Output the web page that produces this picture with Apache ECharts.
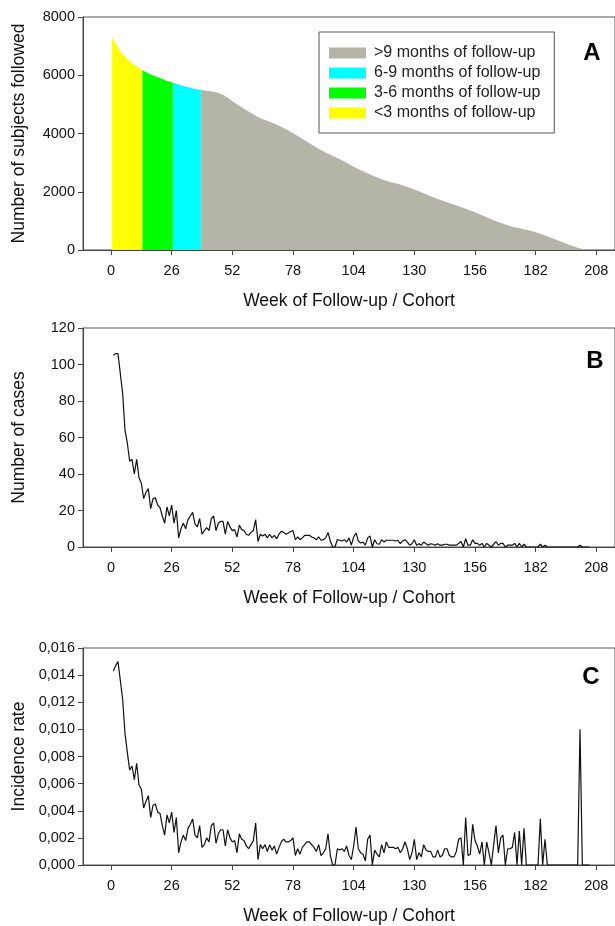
<!DOCTYPE html>
<html><head><meta charset="utf-8">
<script src="https://cdn.jsdelivr.net/npm/echarts@6/dist/echarts.min.js"></script>
<style>html,body{margin:0;padding:0;background:#fff}#c{width:615px;height:926px}</style>
</head><body><div id="c"></div>
<script>
// ---------- DATA ----------
const xTicks = [0, 26, 52, 78, 104, 130, 156, 182, 208];

// Panel A: number of subjects followed (read at selected weeks)
const weeksA = [0.5, 1.5, 3, 5, 8, 10.5, 13.5, 17, 20, 23, 26.5, 30, 33, 36, 38.5, 42, 45, 48, 50, 53, 56, 60, 64, 68, 72, 76, 80, 84, 88, 92, 96, 100, 104, 108, 112, 116, 120, 124, 128, 132, 136, 140, 144, 148, 152, 156, 160, 164, 168, 172, 176, 180, 184, 188, 192, 196, 200, 203, 205];
const subjectsA = [7330, 7150, 6950, 6700, 6480, 6330, 6170, 6030, 5940, 5840, 5740, 5660, 5590, 5530, 5490, 5460, 5420, 5330, 5230, 5060, 4900, 4700, 4520, 4400, 4270, 4100, 3920, 3720, 3520, 3350, 3190, 3040, 2860, 2700, 2560, 2430, 2330, 2250, 2140, 2020, 1880, 1750, 1640, 1530, 1420, 1300, 1160, 1020, 900, 800, 730, 660, 560, 440, 320, 190, 80, 20, 0];
const bandEdges = [0.5, 13.5, 26.5, 38.5, 205];
const bandNames = ['<3 months of follow-up', '3-6 months of follow-up', '6-9 months of follow-up', '>9 months of follow-up'];
const legendOrder = ['>9 months of follow-up', '6-9 months of follow-up', '3-6 months of follow-up', '<3 months of follow-up'];

// Panel B: number of cases per week (weeks 1..205)
const casesB = [
 105, 106, 106, 95, 84, 64, 57, 47, 48, 40,
 48, 38, 35, 26.5, 30, 32, 21, 26.5, 27, 23,
 21.6, 17, 13, 22, 17, 23, 13, 20, 5, 10,
 13, 10, 15, 17, 19, 12.5, 11, 15.6, 7, 9,
 10.6, 9, 15.6, 17, 9, 13, 14, 14, 7, 14,
 11, 9, 9.5, 5.5, 12, 9.5, 9, 7, 6.4, 8,
 9, 15, 3, 7, 6, 7, 5, 7, 5, 6.4,
 4.6, 7, 8.6, 8, 7, 7.7, 8.5, 9, 4, 5.5,
 4, 5, 6.4, 6.4, 6.4, 5.5, 5, 4, 5.5, 3.7,
 4, 5, 8, 3.3, 0, 0, 4, 3.7, 3.3, 4,
 2.7, 5, 1, 5.5, 7.7, 3.3, 2.2, 2.7, 1, 5,
 6, 0, 4, 1.8, 1.5, 4, 2.7, 3.7, 3.7, 3.7,
 3.7, 3.3, 3.7, 1.8, 3.3, 4, 2.7, 1, 1.8, 4,
 1, 1.8, 1, 2.7, 1.8, 1, 1.8, 1.5, 1, 1.8,
 1, 1, 1.5, 1.5, 1, 1, 1, 1, 2, 3,
 0, 4.5, 1, 1, 4, 2, 2, 1, 2, 0,
 2, 1, 0, 1.5, 3, 1, 2, 2, 0, 1,
 1, 1, 2, 0, 2, 0, 1.5, 0, 0, 0,
 0, 0, 0, 1.5, 0, 1, 0, 0, 0, 0,
 0, 0, 0, 0, 0, 0, 0, 0, 0, 0,
 1, 0, 0, 0, 0
];

// Panel C: incidence rate per week (weeks 1..205)
const incidenceC = [
 0.0143, 0.0147, 0.0150, 0.0136, 0.0122, 0.0097, 0.0083, 0.0070, 0.0073, 0.0063,
 0.0075, 0.0059, 0.0056, 0.0042, 0.0047, 0.0051, 0.0035, 0.0044, 0.0045, 0.0039,
 0.0038, 0.0029, 0.0022, 0.0037, 0.0031, 0.0039, 0.0024, 0.0035, 0.0009, 0.0017,
 0.0022, 0.0018, 0.0027, 0.0030, 0.0034, 0.0022, 0.0020, 0.0029, 0.0013, 0.0015,
 0.0020, 0.0017, 0.0029, 0.0031, 0.0016, 0.0023, 0.0026, 0.0026, 0.0014, 0.0026,
 0.0020, 0.0017, 0.0018, 0.0009, 0.0023, 0.0019, 0.0018, 0.0014, 0.0012, 0.0015,
 0.0018, 0.0031, 0.0004, 0.0015, 0.0012, 0.0015, 0.0010, 0.0015, 0.0011, 0.0014,
 0.0008, 0.0013, 0.0017, 0.0019, 0.0017, 0.0017, 0.0018, 0.0020, 0.0007, 0.0012,
 0.0008, 0.0013, 0.0015, 0.0017, 0.0017, 0.0015, 0.0013, 0.0010, 0.0015, 0.0007,
 0.0009, 0.0012, 0.0023, 0.0007, 0, 0, 0.0012, 0.0011, 0.0012, 0.0010,
 0.0014, 0.0007, 0.0004, 0.0014, 0.0028, 0.0012, 0.0009, 0.0008, 0.0003, 0.0019,
 0.0022, 0, 0.0011, 0.0008, 0.0006, 0.0015, 0.0009, 0.0017, 0.0013, 0.0013,
 0.0013, 0.0012, 0.0013, 0.0009, 0.0012, 0.0017, 0.0012, 0.0004, 0.0009, 0.0019,
 0.0004, 0.0009, 0.0006, 0.0015, 0.0011, 0.0010, 0.0010, 0.0006, 0.0006, 0.0011,
 0.0006, 0.0007, 0.0012, 0.0012, 0.0007, 0.0006, 0.0006, 0.0010, 0.0019, 0.0020,
 0, 0.0035, 0.0007, 0.0008, 0.0030, 0.0018, 0.0014, 0.0008, 0.0017, 0,
 0.0017, 0.0009, 0, 0.0015, 0.0029, 0.0009, 0.0020, 0.0022, 0, 0.0012,
 0.0012, 0.0013, 0.0024, 0, 0.0025, 0, 0.0027, 0, 0, 0,
 0, 0, 0, 0.0034, 0, 0.0019, 0, 0, 0, 0,
 0, 0, 0, 0, 0, 0, 0, 0, 0, 0,
 0.0100, 0, 0, 0, 0
];
const firstWeek = 1;

// ---------- STYLE ----------
const FONT = 'Liberation Sans, Arial, sans-serif';
const bandColors = ['#ffff00', '#00ff00', '#00ffff', '#b4b4a9'];
const axisColor = '#444';
const xTitle = 'Week of Follow-up / Cohort';

const weeks = casesB.map((_, i) => firstWeek + i);

function xAxisFor(gridIndex) {
  return {
    type: 'value', gridIndex, min: -12, max: 216,
    name: xTitle, nameLocation: 'middle', nameGap: 42,
    nameTextStyle: { fontFamily: FONT, fontSize: 17.5, color: '#111' },
    axisLine: { show: true, onZero: false, lineStyle: { color: axisColor, width: 1 } },
    axisTick: { show: true, length: 5, customValues: xTicks, lineStyle: { color: axisColor } },
    axisLabel: { customValues: xTicks, fontFamily: FONT, fontSize: 14.5, color: '#111', margin: 13 },
    splitLine: { show: false }
  };
}
function yAxisFor(gridIndex, name, max, interval, fmt) {
  return {
    type: 'value', gridIndex, min: 0, max, interval,
    name, nameLocation: 'middle', nameGap: 55,
    nameTextStyle: { fontFamily: FONT, fontSize: 17.5, color: '#111' },
    axisLine: { show: true, onZero: false, lineStyle: { color: axisColor, width: 1 } },
    axisTick: { show: true, length: 5, lineStyle: { color: axisColor } },
    axisLabel: { fontFamily: FONT, fontSize: 14.5, color: '#111', margin: 8, formatter: fmt },
    splitLine: { show: false }
  };
}
const gridBase = { left: 83, right: -5, show: true, borderColor: '#555', borderWidth: 1, backgroundColor: 'transparent' };

const series = [];
bandNames.forEach((name, i) => {
  const data = weeksA.map((w, k) => [w, subjectsA[k]])
    .filter(p => p[0] >= bandEdges[i] && p[0] <= bandEdges[i + 1]);
  series.push({
    name, type: 'line', xAxisIndex: 0, yAxisIndex: 0, data,
    symbol: 'none', lineStyle: { width: 0 }, itemStyle: { color: bandColors[i] },
    areaStyle: { color: bandColors[i], opacity: 1 }, silent: true, z: 2
  });
});
series.push({
  name: 'cases', type: 'line', xAxisIndex: 1, yAxisIndex: 1,
  data: weeks.map((w, i) => [w, casesB[i]]),
  symbol: 'none', lineStyle: { color: '#111', width: 1.2 }, itemStyle: { color: '#111' }, silent: true
});
series.push({
  name: 'incidence', type: 'line', xAxisIndex: 2, yAxisIndex: 2,
  data: weeks.map((w, i) => [w, incidenceC[i]]),
  symbol: 'none', lineStyle: { color: '#111', width: 1.2 }, itemStyle: { color: '#111' }, silent: true
});

const chart = echarts.init(document.getElementById('c'), null, { renderer: 'canvas' });
chart.setOption({
  animation: false,
  backgroundColor: '#fff',
  grid: [
    Object.assign({ top: 17, height: 233 }, gridBase),
    Object.assign({ top: 328, height: 219 }, gridBase),
    Object.assign({ top: 648, height: 218 }, gridBase)
  ],
  xAxis: [xAxisFor(0), xAxisFor(1), xAxisFor(2)],
  yAxis: [
    yAxisFor(0, 'Number of subjects followed', 8000, 2000, v => String(v)),
    yAxisFor(1, 'Number of cases', 120, 20, v => String(v)),
    yAxisFor(2, 'Incidence rate', 0.016, 0.002, v => v.toFixed(3).replace('.', ','))
  ],
  legend: {
    data: legendOrder, orient: 'vertical', left: 319, top: 32,
    icon: 'rect', itemWidth: 37, itemHeight: 11, itemGap: 4,
    padding: [13, 14, 12, 10], borderColor: '#555', borderWidth: 1,
    selectedMode: false,
    textStyle: { fontFamily: FONT, fontSize: 16, color: '#222', padding: [0, 0, 0, 3] }
  },
  graphic: [
    { type: 'text', x: 592, y: 53, style: { text: 'A', fontFamily: FONT, fontSize: 24, fontWeight: 'bold', fill: '#000', align: 'center', verticalAlign: 'middle' } },
    { type: 'text', x: 595, y: 361, style: { text: 'B', fontFamily: FONT, fontSize: 24, fontWeight: 'bold', fill: '#000', align: 'center', verticalAlign: 'middle' } },
    { type: 'text', x: 591, y: 677, style: { text: 'C', fontFamily: FONT, fontSize: 24, fontWeight: 'bold', fill: '#000', align: 'center', verticalAlign: 'middle' } }
  ],
  series
});
</script></body></html>
